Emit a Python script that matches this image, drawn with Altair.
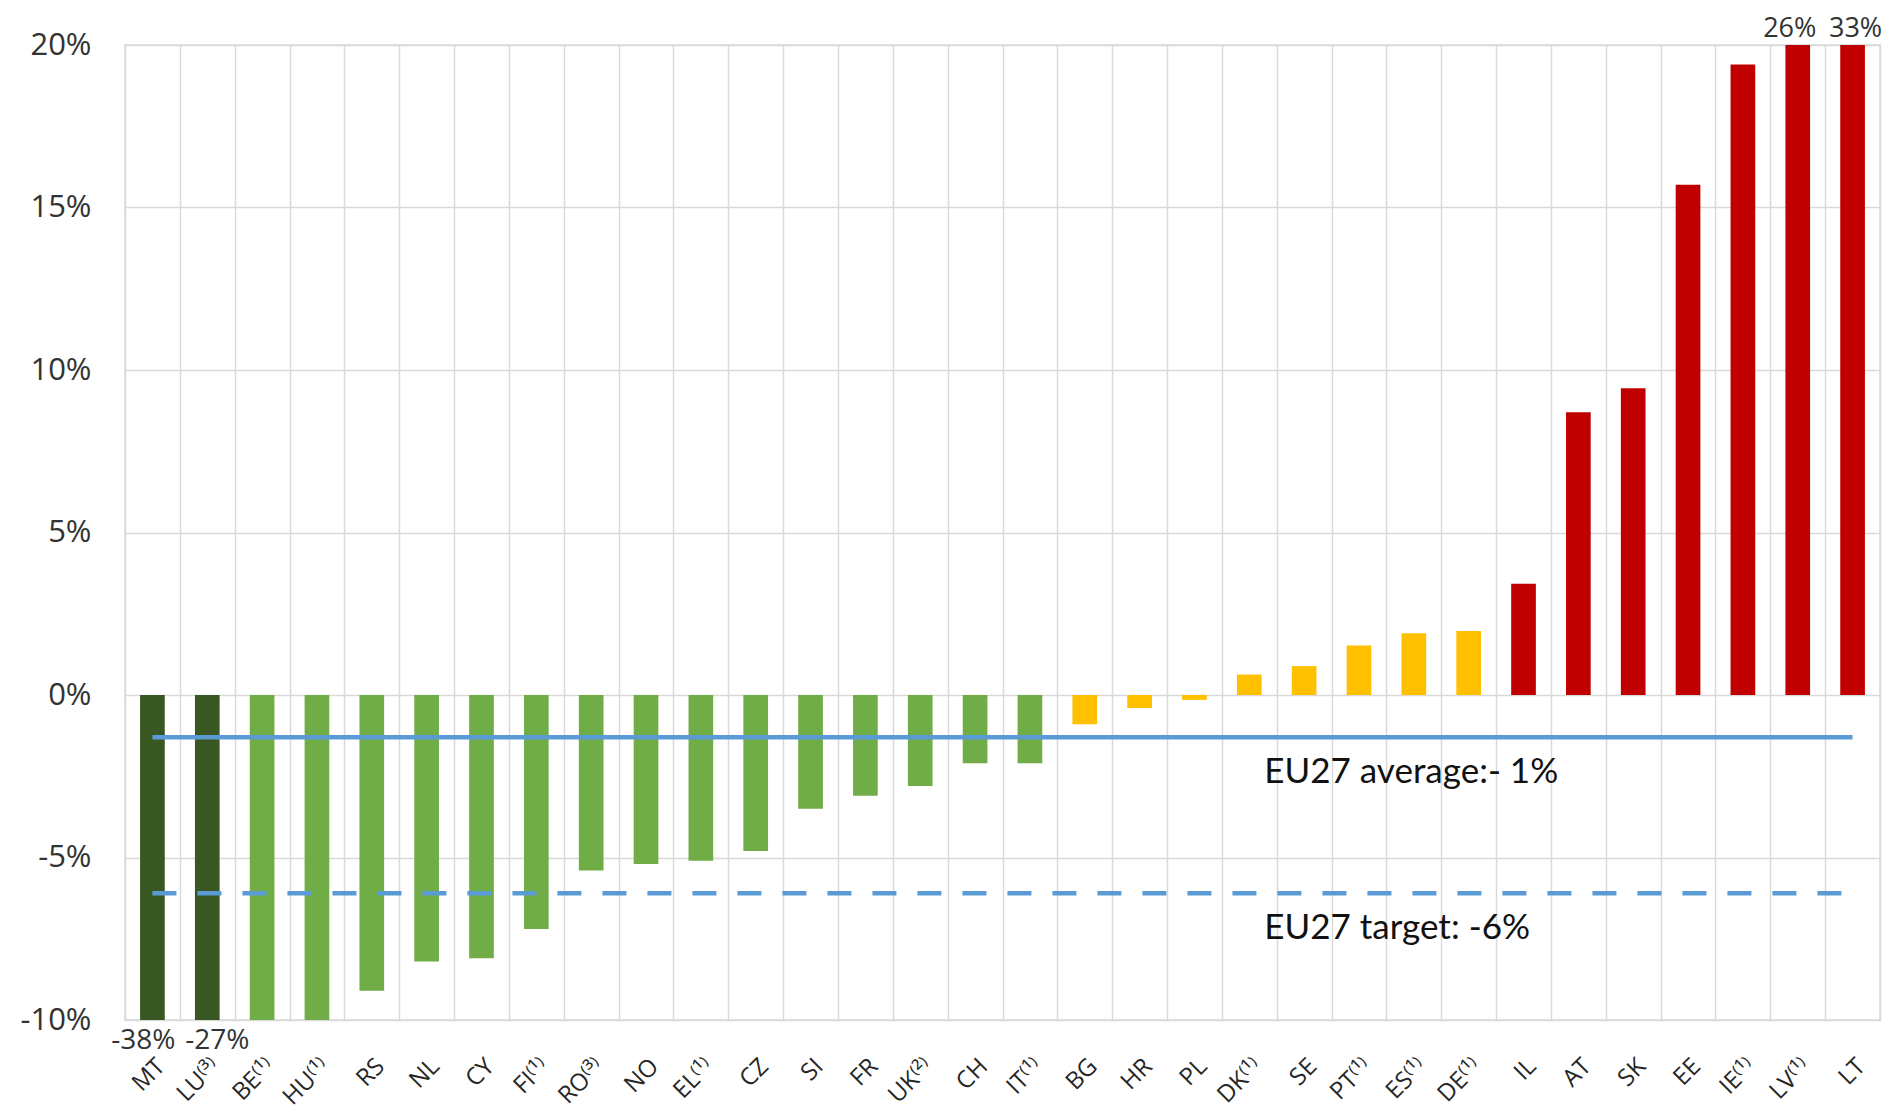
import altair as alt
import pandas as pd

countries = ["MT", "LU⁽³⁾", "BE⁽¹⁾", "HU⁽¹⁾", "RS", "NL", "CY", "FI⁽¹⁾", "RO⁽³⁾", "NO",
             "EL⁽¹⁾", "CZ", "SI", "FR", "UK⁽²⁾", "CH", "IT⁽¹⁾", "BG", "HR", "PL",
             "DK⁽¹⁾", "SE", "PT⁽¹⁾", "ES⁽¹⁾", "DE⁽¹⁾", "IL", "AT", "SK", "EE", "IE⁽¹⁾",
             "LV⁽¹⁾", "LT"]
values = [-38, -27, -10, -10, -9.1, -8.2, -8.1, -7.2, -5.4, -5.2,
          -5.1, -4.8, -3.5, -3.1, -2.8, -2.1, -2.1, -0.9, -0.4, -0.15,
          0.63, 0.89, 1.52, 1.9, 1.97, 3.42, 8.7, 9.44, 15.7, 19.4,
          26, 33]
groups = (["strong decrease"] * 2 + ["decrease"] * 15 + ["stable"] * 8 + ["increase"] * 7)
group_names = ["strong decrease", "decrease", "stable", "increase"]
group_colors = ["#385723", "#70AD47", "#FFC000", "#C00000"]

y_ticks = [-10, -5, 0, 5, 10, 15, 20]
y_domain = [-10, 20]

ref_countries = ["MT", "LT"]
eu_average = -1.3
eu_target = -6.1
ann_anchor = ["DK⁽¹⁾", "DK⁽¹⁾"]
ann_values = [eu_average, eu_target]
ann_texts = ["EU27 average:- 1%", "EU27 target: -6%"]

df = pd.DataFrame({"country": countries, "value": values, "group": groups})
avg_df = pd.DataFrame({"country": ref_countries, "value": [eu_average] * 2})
tgt_df = pd.DataFrame({"country": ref_countries, "value": [eu_target] * 2})
ann_df = pd.DataFrame({"country": ann_anchor, "value": ann_values, "text": ann_texts})

GRID = "#D9D9D9"
LINE = "#5B9BD5"
TXT = "#333333"

x_axis = alt.Axis(title=None, labelAngle=-45, labelAlign="right", labelBaseline="top",
                  labelFont="Open Sans", labelFontSize=24, labelColor="#262626",
                  labelPadding=34, ticks=False, domain=False, grid=True,
                  gridColor=GRID, gridWidth=1.5, tickBand="extent", labelOverlap=False)
y_axis = alt.Axis(title=None, values=y_ticks, labelExpr="datum.value + '%'",
                  labelFont="Open Sans", labelFontSize=31, labelColor=TXT,
                  labelPadding=34, ticks=False, domain=False, grid=True,
                  gridColor=GRID, gridWidth=1.5)
x_scale = alt.Scale(domain=countries, paddingInner=0, paddingOuter=0)
y_scale = alt.Scale(domain=y_domain, nice=False, zero=False)


def X():
    return alt.X("country:N", scale=x_scale, axis=x_axis)


def Y(field="value"):
    return alt.Y(f"{field}:Q", scale=y_scale, axis=y_axis)


bars = alt.Chart(df).mark_bar(clip=True, width=alt.RelativeBandSize(0.45)).encode(
    x=X(), y=Y(),
    color=alt.Color("group:N", scale=alt.Scale(domain=group_names, range=group_colors), legend=None),
)

avg_line = alt.Chart(avg_df).mark_line(color=LINE, strokeWidth=4.5).encode(x=X(), y=Y())
tgt_line = alt.Chart(tgt_df).mark_line(color=LINE, strokeWidth=4.5, strokeDash=[24, 21]).encode(x=X(), y=Y())

ann = alt.Chart(ann_df).mark_text(align="left", baseline="alphabetic", dx=15, dy=46,
                                  font="Lato", fontSize=35, color="#111111").encode(
    x=X(), y=Y(), text="text:N")


def edge_label(country, edge, dx, dy, size):
    return alt.Chart(df).transform_filter(
        alt.datum.country == country
    ).transform_calculate(
        pos=str(edge), label="datum.value + '%'"
    ).mark_text(baseline="alphabetic", dx=dx, dy=dy, font="Open Sans",
                fontSize=size, color=TXT).encode(x=X(), y=Y("pos"), text="label:N")


labels = [
    edge_label("MT", y_domain[0], -9, 29, 28),
    edge_label("LU⁽³⁾", y_domain[0], 10, 29, 28),
    edge_label("LV⁽¹⁾", y_domain[1], -8, -8, 27),
    edge_label("LT", y_domain[1], 3, -8, 27),
]

chart = alt.layer(bars, avg_line, tgt_line, ann, *labels).properties(
    width=1755, height=975,
    autosize=alt.AutoSizeParams(type="none"),
    padding={"left": 117, "top": 37, "right": 3, "bottom": 90},
    background="white",
).configure_view(stroke=GRID, strokeWidth=1.5)

chart.save("out.html", embed_options={"renderer": "svg", "actions": False})
